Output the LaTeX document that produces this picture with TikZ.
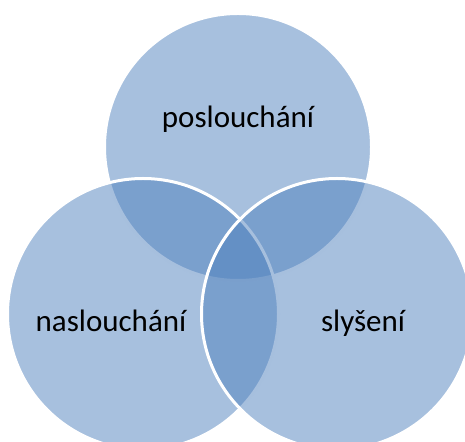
\documentclass[tikz,border=0pt]{standalone}
\usepackage{fontspec}
\setmainfont{Carlito}
\usepackage{tikz}
\usetikzlibrary{positioning}

\definecolor{vennblue}{RGB}{79,129,189}

\begin{document}
\begin{tikzpicture}[x=1pt,y=1pt]
		\tikzset{set/.style = {shape=circle,draw=white,line width=3pt,fill=vennblue,fill opacity=0.5,minimum size=267pt,inner sep=0pt}}
		\tikzset{word/.style = {anchor=base,font=\fontsize{31}{36}\selectfont,text=black}}
			\useasboundingbox (0,0) rectangle (465,441);
			\node[set] (top) at (238,294) {};
			\node[set,minimum size=271pt] (left) at (143,127) {};
			\node[set,minimum size=271pt] (right) at (337,127) {};
			% labels
			\node[word] (posl) at (238,313) {poslouchání};
			\node[word] (nasl) at (111,109) {naslouchání};
			\node[word] (slys) at (363,109) {slyšení};
		\end{tikzpicture}
\end{document}
